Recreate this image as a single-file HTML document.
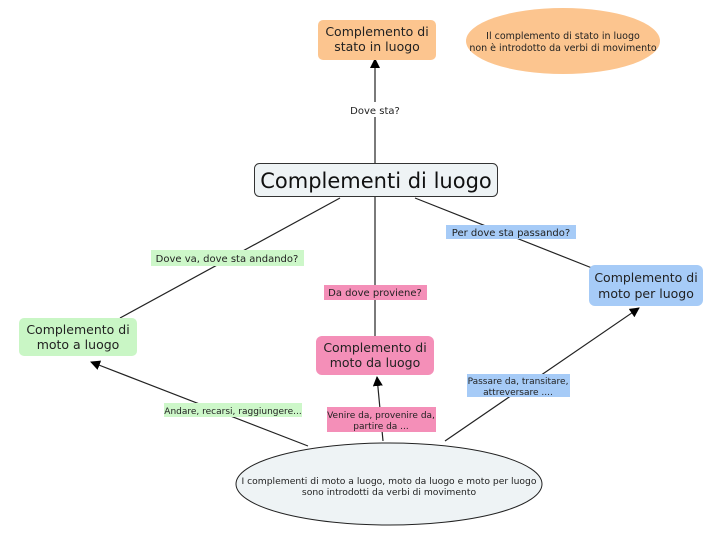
<!DOCTYPE html>
<html><head><meta charset="utf-8"><style>
body{margin:0;background:#fff;}
svg{display:block;font-family:"DejaVu Sans","Liberation Sans",sans-serif;}
</style></head><body>
<svg width="720" height="540" viewBox="0 0 720 540" xmlns="http://www.w3.org/2000/svg">
<defs><marker id="a" markerWidth="10" markerHeight="10" refX="9" refY="5" orient="auto" markerUnits="userSpaceOnUse"><path d="M0,0 L10,5 L0,10 z" fill="#000"/></marker></defs>
<rect x="0" y="0" width="720" height="540" fill="#fff"/>
<g stroke="#222" stroke-width="1.2" fill="none">
<line x1="375" y1="163" x2="375" y2="59" marker-end="url(#a)"/>
<line x1="340" y1="198" x2="120" y2="318"/>
<line x1="375" y1="197" x2="375" y2="336"/>
<line x1="415" y1="198" x2="592" y2="268"/>
<line x1="308" y1="446" x2="91" y2="362" marker-end="url(#a)"/>
<line x1="383" y1="441" x2="377" y2="377" marker-end="url(#a)"/>
<line x1="445" y1="441" x2="639" y2="308" marker-end="url(#a)"/>
</g>
<rect x="318" y="20" width="118" height="40" rx="5" fill="#fcc58f"/>
<text x="377" y="36" font-size="12.5" text-anchor="middle" fill="#222">Complemento di</text>
<text x="377" y="51" font-size="12.5" text-anchor="middle" fill="#222">stato in luogo</text>
<ellipse cx="563" cy="41" rx="97" ry="33" fill="#fcc58f"/>
<text x="563" y="39" font-size="9.5" text-anchor="middle" fill="#222">Il complemento di stato in luogo</text>
<text x="563" y="51" font-size="9.5" text-anchor="middle" fill="#222">non è introdotto da verbi di movimento</text>
<rect x="345" y="102" width="60" height="15" fill="#fff"/>
<text x="375" y="114" font-size="10" text-anchor="middle" fill="#222">Dove sta?</text>
<rect x="254.5" y="163.5" width="243" height="33" rx="5" fill="#eef3f5" stroke="#333"/>
<text x="376" y="188" font-size="21" text-anchor="middle" fill="#111">Complementi di luogo</text>
<rect x="151" y="250" width="153" height="16" fill="#cdf7c9"/>
<text x="227" y="262" font-size="10" text-anchor="middle" fill="#222">Dove va, dove sta andando?</text>
<rect x="324" y="285" width="103" height="15" fill="#f48fb8"/>
<text x="375" y="296" font-size="10" text-anchor="middle" fill="#222">Da dove proviene?</text>
<rect x="446" y="225" width="130" height="14" fill="#a6cbf7"/>
<text x="511" y="236" font-size="10" text-anchor="middle" fill="#222">Per dove sta passando?</text>
<rect x="19" y="318" width="118" height="38" rx="5" fill="#c9f6c5"/>
<text x="78" y="334" font-size="12.5" text-anchor="middle" fill="#222">Complemento di</text>
<text x="78" y="349" font-size="12.5" text-anchor="middle" fill="#222">moto a luogo</text>
<rect x="316" y="336" width="118" height="39" rx="6" fill="#f48fb8"/>
<text x="375" y="352" font-size="12.5" text-anchor="middle" fill="#222">Complemento di</text>
<text x="375" y="367" font-size="12.5" text-anchor="middle" fill="#222">moto da luogo</text>
<rect x="589" y="265" width="114" height="41" rx="6" fill="#a6cbf7"/>
<text x="646" y="282" font-size="12.5" text-anchor="middle" fill="#222">Complemento di</text>
<text x="646" y="298" font-size="12.5" text-anchor="middle" fill="#222">moto per luogo</text>
<rect x="164" y="403" width="138" height="14" fill="#cdf7c9"/>
<text x="233" y="414" font-size="9" text-anchor="middle" fill="#222">Andare, recarsi, raggiungere...</text>
<rect x="327" y="407" width="109" height="25" fill="#f48fb8"/>
<text x="381" y="418" font-size="9" text-anchor="middle" fill="#222">Venire da, provenire da,</text>
<text x="381" y="429" font-size="9" text-anchor="middle" fill="#222">partire da ...</text>
<rect x="467" y="374" width="103" height="23" fill="#a6cbf7"/>
<text x="518" y="384" font-size="9" text-anchor="middle" fill="#222">Passare da, transitare,</text>
<text x="518" y="395" font-size="9" text-anchor="middle" fill="#222">attreversare ....</text>
<ellipse cx="389" cy="484" rx="153" ry="41" fill="#eef3f5" stroke="#222"/>
<text x="389" y="484" font-size="9.2" text-anchor="middle" fill="#222">I complementi di moto a luogo, moto da luogo e moto per luogo</text>
<text x="389" y="495" font-size="9.2" text-anchor="middle" fill="#222">sono introdotti da verbi di movimento</text>
</svg>
</body></html>
